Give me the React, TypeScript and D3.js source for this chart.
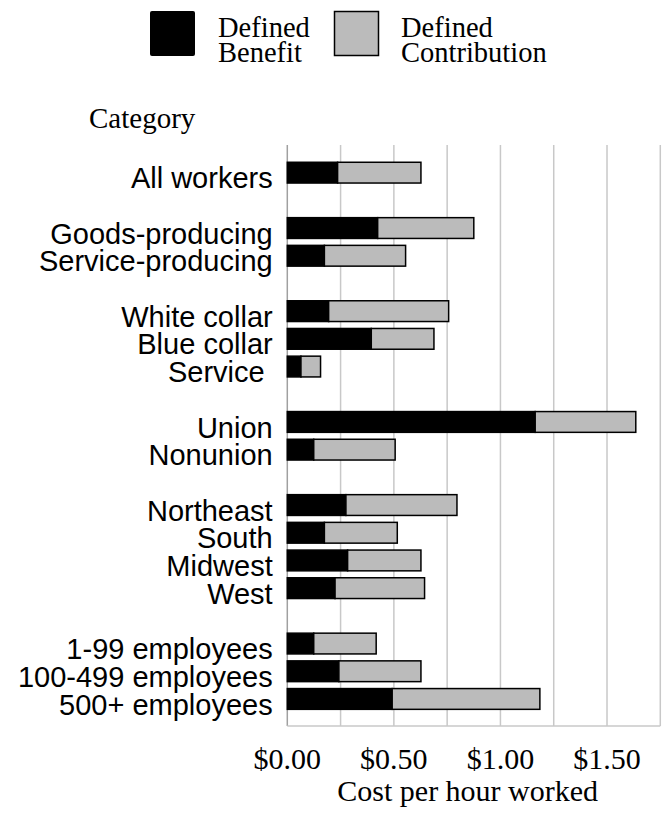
import React from "react";
import * as d3 from "d3";

const categories: string[] = [
  "All workers", "",
  "Goods-producing", "Service-producing", "",
  "White collar", "Blue collar", "Service ", "",
  "Union", "Nonunion", "",
  "Northeast", "South", "Midwest", "West", "",
  "1-99 employees", "100-499 employees", "500+ employees",
];

const definedBenefit: (number | null)[] = [
  0.236, null,
  0.424, 0.174, null,
  0.194, 0.394, 0.064, null,
  1.163, 0.124, null,
  0.275, 0.174, 0.283, 0.224, null,
  0.124, 0.242, 0.492,
];

const definedContribution: (number | null)[] = [
  0.391, null,
  0.451, 0.381, null,
  0.563, 0.294, 0.092, null,
  0.472, 0.382, null,
  0.521, 0.342, 0.344, 0.42, null,
  0.293, 0.385, 0.693,
];

const tickValues: number[] = [0, 0.5, 1, 1.5];
const gridValues: number[] = [0, 0.25, 0.5, 0.75, 1, 1.25, 1.5, 1.75];
const legendLabels: string[][] = [["Defined", "Benefit"], ["Defined", "Contribution"]];

const SERIF = "'Liberation Serif', 'Times New Roman', serif";
const SANS = "'Liberation Sans', Arial, sans-serif";
const GRAY = "#bbbbbb";

export default function App() {
  const width = 663;
  const height = 815;
  const x = d3.scaleLinear().domain([0, 1.75]).range([287.3, 660.3]);
  const keys = categories.map((_, i) => String(i));
  const y = d3
    .scaleBand<string>()
    .domain(keys)
    .range([158.8, 712.8])
    .paddingInner(0.25)
    .paddingOuter(0.125);
  const bw = y.bandwidth();
  const fmt = (v: number) => "$" + d3.format(".2f")(v);

  return (
    <svg
      width={width}
      height={height}
      style={{ position: "absolute", left: 0, top: 0, background: "#fff" }}
    >
      {gridValues.map((g) => (
        <line
          key={"g" + g}
          x1={x(g)}
          x2={x(g)}
          y1={145}
          y2={726}
          stroke={g === 0 ? "#a0a0a0" : "#c8c8c8"}
          strokeWidth={1.5}
        />
      ))}
      <line x1={x(0)} x2={x(1.75)} y1={726} y2={726} stroke="#c8c8c8" strokeWidth={1.5} />

      {categories.map((c, i) => {
        const db = definedBenefit[i];
        const dc = definedContribution[i];
        if (db == null || dc == null) return null;
        const yy = y(String(i))!;
        return (
          <g key={"b" + i}>
            <rect
              x={x(0)}
              y={yy}
              width={x(db) - x(0)}
              height={bw}
              fill="#000"
              stroke="#000"
              strokeWidth={1.5}
            />
            <rect
              x={x(db)}
              y={yy}
              width={x(db + dc) - x(db)}
              height={bw}
              fill={GRAY}
              stroke="#000"
              strokeWidth={1.5}
            />
          </g>
        );
      })}

      {categories.map((c, i) =>
        c ? (
          <text
            key={"l" + i}
            x={272.7}
            y={y(String(i))! + bw / 2 + 15.6}
            textAnchor="end"
            fontFamily={SANS}
            fontSize={29}
            fill="#000"
            style={{ whiteSpace: "pre" }}
          >
            {c}
          </text>
        ) : null
      )}

      {tickValues.map((t) => (
        <text
          key={"t" + t}
          x={x(t)}
          y={769}
          textAnchor="middle"
          fontFamily={SERIF}
          fontSize={30}
          fill="#000"
        >
          {fmt(t)}
        </text>
      ))}

      <text x={467.7} y={801} textAnchor="middle" fontFamily={SERIF} fontSize={30} fill="#000">
        Cost per hour worked
      </text>

      <text x={89} y={128} fontFamily={SERIF} fontSize={29} fill="#000">
        Category
      </text>

      <rect x={150} y={11} width={45} height={45} rx={2} fill="#000" />
      <rect x={334.5} y={11.5} width={44} height={44} fill={GRAY} stroke="#000" strokeWidth={1.5} />
      {legendLabels.map((lines, li) => (
        <text
          key={"lg" + li}
          x={li === 0 ? 218 : 401}
          fontFamily={SERIF}
          fontSize={28.5}
          fill="#000"
        >
          {lines.map((ln, k) => (
            <tspan key={k} x={li === 0 ? 218 : 401} y={37 + k * 24.7}>
              {ln}
            </tspan>
          ))}
        </text>
      ))}
    </svg>
  );
}
